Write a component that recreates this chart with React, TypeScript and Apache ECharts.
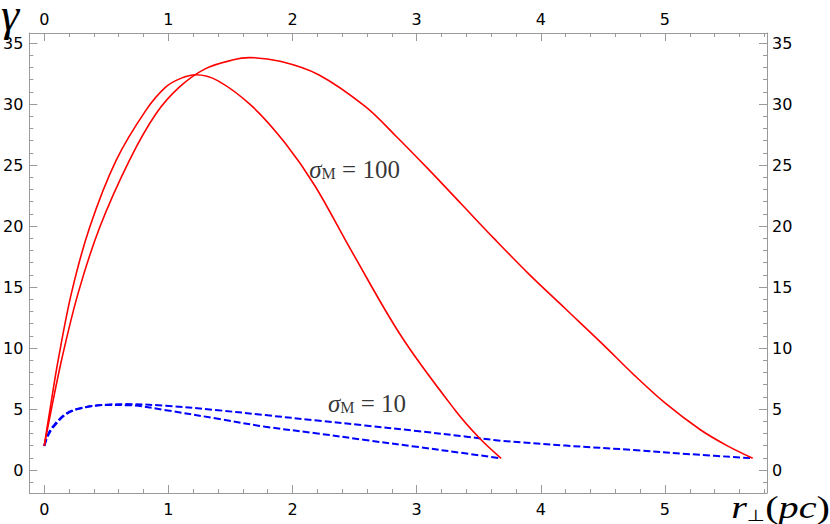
import React, { useEffect, useRef } from "react";
import * as echarts from "echarts";

// σ_M = 100 (red, solid)
const redShortX = [0, 0.05, 0.112, 0.219, 0.366, 0.58, 0.82, 0.98, 1.1, 1.22, 1.4, 1.676, 1.94, 2.18, 2.478, 2.88, 3.31, 3.507, 3.68];
const redShortY = [2, 5.2, 9.0, 14.5, 19.9, 25.4, 29.5, 31.4, 32.1, 32.4, 31.9, 29.8, 26.8, 23.3, 17.9, 10.9, 4.9, 2.6, 0.96];
const redLongX = [0, 0.05, 0.139, 0.273, 0.447, 0.687, 0.9, 1.09, 1.3, 1.516, 1.65, 1.9, 2.21, 2.585, 2.83, 3.09, 3.36, 3.63, 3.9, 4.2, 4.5, 4.75, 5.0, 5.285, 5.5, 5.707];
const redLongY = [2, 4.6, 9.0, 14.5, 19.9, 25.4, 29.2, 31.4, 32.9, 33.6, 33.8, 33.5, 32.4, 29.8, 27.4, 24.7, 21.8, 18.9, 16.1, 13.2, 10.3, 7.8, 5.5, 3.3, 2.0, 0.96];
// σ_M = 10 (blue, dashed)
const blueShortX = [0, 0.03, 0.072, 0.18, 0.31, 0.5, 0.7, 0.98, 1.4, 1.78, 2.2, 2.585, 3.0, 3.387, 3.68];
const blueShortY = [1.97, 2.9, 3.6, 4.65, 5.1, 5.33, 5.3, 4.9, 4.2, 3.55, 3.0, 2.46, 1.9, 1.37, 0.96];
const blueLongX = [0, 0.03, 0.072, 0.18, 0.31, 0.5, 0.65, 0.98, 1.4, 1.78, 2.2, 2.585, 3.0, 3.387, 3.68, 4.2, 4.75, 5.2, 5.707];
const blueLongY = [1.97, 2.8, 3.5, 4.6, 5.1, 5.35, 5.4, 5.27, 4.9, 4.5, 4.05, 3.65, 3.2, 2.75, 2.4, 2.0, 1.64, 1.3, 0.96];

// tick values
const xMajorTicks = [0, 1, 2, 3, 4, 5];
const yMajorTicks = [0, 5, 10, 15, 20, 25, 30, 35];
const xMinorTicks = [-0.2, 0.2, 0.4, 0.6, 0.8, 1.2, 1.4, 1.6, 1.8, 2.2, 2.4, 2.6, 2.8, 3.2, 3.4, 3.6, 3.8, 4.2, 4.4, 4.6, 4.8, 5.2, 5.4, 5.6, 5.8];
const yMinorTicks = [-1, 1, 2, 3, 4, 6, 7, 8, 9, 11, 12, 13, 14, 16, 17, 18, 19, 21, 22, 23, 24, 26, 27, 28, 29, 31, 32, 33, 34];
const annotationLabels = ["100", "10"];

const zip = (xs: number[], ys: number[]) => xs.map((x, i) => [x, ys[i]]);

const axisGray = "#9a9a9a";
const tickFont = { fontFamily: "DejaVu Sans", fontSize: 16, color: "#000" };
const X_MIN = -0.12;
const X_MAX = 5.822;
const Y_MIN = -1.885;
const Y_MAX = 35.82;

export default function App() {
  const ref = useRef<HTMLDivElement>(null);
  useEffect(() => {
    if (!ref.current) return;
    const chart = echarts.init(ref.current, null, { renderer: "svg" });
    const majorAxis = (min: number, max: number, ticks: number[], position: string, margin: number, line: boolean) => ({
      type: "value" as const,
      min,
      max,
      position,
      axisLine: { show: line, onZero: false, lineStyle: { color: axisGray, width: 1 } },
      axisTick: { show: true, inside: true, length: 8, customValues: ticks, lineStyle: { color: axisGray } },
      splitLine: { show: false },
      axisLabel: { show: true, ...tickFont, margin, customValues: ticks, formatter: (v: number) => String(v) },
    });
    const minorAxis = (min: number, max: number, ticks: number[], position: string) => ({
      type: "value" as const,
      min,
      max,
      position,
      axisLine: { show: false, onZero: false },
      axisTick: { show: true, inside: true, length: 4, customValues: ticks.filter((t) => t > min && t < max), lineStyle: { color: axisGray } },
      splitLine: { show: false },
      axisLabel: { show: false },
    });
    const serif = "Liberation Serif";
    const annRich = {
      s: { fontFamily: serif, fontStyle: "italic", fontSize: 25, lineHeight: 32, color: "#000" },
      m: { fontFamily: serif, fontSize: 16, lineHeight: 32, verticalAlign: "bottom", color: "#000", padding: [0, 0, 4, 0] },
      t: { fontFamily: serif, fontSize: 25, lineHeight: 32, color: "#000" },
    };
    chart.setOption({
      animation: false,
      backgroundColor: "#fff",
      grid: { left: 26, top: 33, width: 741, height: 460, containLabel: false },
      xAxis: [
        majorAxis(X_MIN, X_MAX, xMajorTicks, "bottom", 8, true),
        majorAxis(X_MIN, X_MAX, xMajorTicks, "top", 6, true),
        minorAxis(X_MIN, X_MAX, xMinorTicks, "bottom"),
        minorAxis(X_MIN, X_MAX, xMinorTicks, "top"),
      ],
      yAxis: [
        majorAxis(Y_MIN, Y_MAX, yMajorTicks, "left", 6, true),
        majorAxis(Y_MIN, Y_MAX, yMajorTicks, "right", 5, true),
        minorAxis(Y_MIN, Y_MAX, yMinorTicks, "left"),
        minorAxis(Y_MIN, Y_MAX, yMinorTicks, "right"),
      ],
      series: [
        {
          type: "line", xAxisIndex: 0, yAxisIndex: 0, data: zip(redShortX, redShortY), showSymbol: false, smooth: 0.35,
          lineStyle: { color: "#ff0000", width: 1.6 }, z: 3,
        },
        {
          type: "line", xAxisIndex: 0, yAxisIndex: 0, data: zip(redLongX, redLongY), showSymbol: false, smooth: 0.35,
          lineStyle: { color: "#ff0000", width: 1.6 }, z: 3,
        },
        {
          type: "line", xAxisIndex: 0, yAxisIndex: 0, data: zip(blueShortX, blueShortY), showSymbol: false, smooth: 0.35,
          lineStyle: { color: "#0000ff", width: 2, type: [7, 3] }, z: 2,
        },
        {
          type: "line", xAxisIndex: 0, yAxisIndex: 0, data: zip(blueLongX, blueLongY), showSymbol: false, smooth: 0.35,
          lineStyle: { color: "#0000ff", width: 2, type: [7, 3] }, z: 2,
        },
        {
          type: "scatter",
          xAxisIndex: 0,
          yAxisIndex: 0,
          symbolSize: 0,
          data: [
            { value: [2.5, 24.6], name: annotationLabels[0] },
            { value: [2.6, 5.45], name: annotationLabels[1] },
          ],
          label: {
            show: true,
            position: "inside",
            formatter: (p: any) => `{s|σ}{m|M}{t| = ${p.name}}`,
            rich: annRich,
          },
          z: 4,
        },
      ],
      graphic: [
        {
          type: "text",
          x: 1,
          y: 7,
          style: {
            text: "γ",
            font: `italic 46px "${serif}"`,
            fill: "#000",
            lineHeight: 14,
            verticalAlign: "top",
          },
        },
        {
          type: "text",
          x: 830,
          y: 508,
          scaleX: 1.3,
          style: {
            text: "{r|r}{p|⊥}{q|(}{r|pc}{q|)}",
            align: "right",
            verticalAlign: "middle",
            rich: {
              r: { fontFamily: serif, fontStyle: "italic", fontSize: 31, lineHeight: 30, fill: "#000" },
              p: { fontFamily: "DejaVu Sans", fontSize: 16, lineHeight: 30, verticalAlign: "bottom", fill: "#000" },
              q: { fontFamily: serif, fontSize: 31, lineHeight: 30, fill: "#000" },
            },
          },
        },
      ],
    });
    return () => chart.dispose();
  }, []);
  return (
    <div
      ref={ref}
      style={{ position: "absolute", left: 0, top: 0, width: 830, height: 524 }}
    />
  );
}
